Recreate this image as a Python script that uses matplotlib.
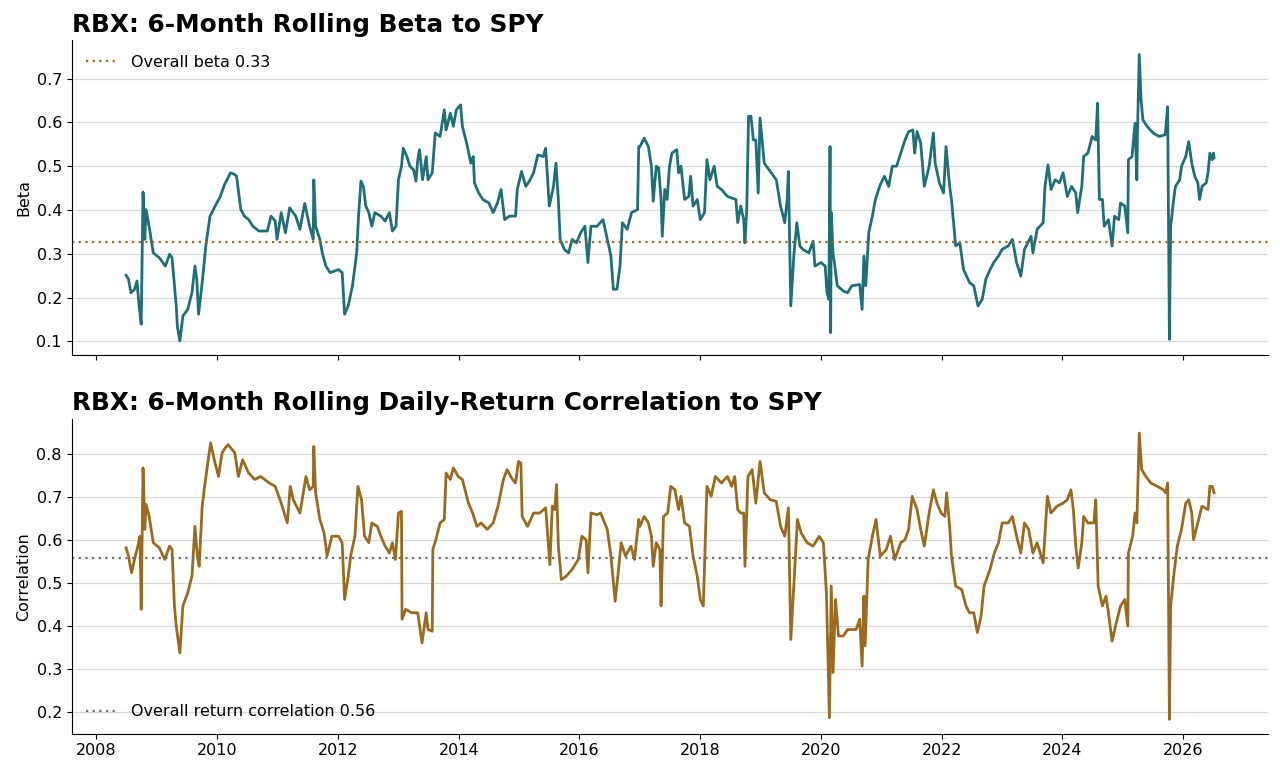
import matplotlib
matplotlib.use("Agg")
import matplotlib.pyplot as plt
import matplotlib.dates as mdates
import pandas as pd
import numpy as np

# ---- data (decimal years) ----
beta_years = [
2008.49,2008.53,2008.57,2008.63,2008.67,2008.70,2008.74,2008.77,2008.80,2008.82,2008.87,2008.94,
2009.04,2009.14,2009.21,2009.25,2009.29,2009.32,2009.34,2009.38,2009.43,2009.51,2009.58,2009.63,
2009.66,2009.69,2009.75,2009.81,2009.88,2009.95,2010.05,2010.12,2010.22,2010.29,2010.32,2010.39,
2010.45,2010.52,2010.59,2010.69,2010.83,2010.89,2010.96,2010.99,2011.06,2011.13,2011.20,2011.30,
2011.37,2011.45,2011.53,2011.59,2011.60,2011.63,2011.70,2011.74,2011.80,2011.87,2012.01,2012.07,
2012.11,2012.17,2012.24,2012.31,2012.34,2012.38,2012.42,2012.46,2012.51,2012.56,2012.61,2012.71,
2012.78,2012.85,2012.90,2012.96,2013.00,2013.05,2013.08,2013.14,2013.19,2013.25,2013.29,2013.32,
2013.35,2013.40,2013.46,2013.49,2013.56,2013.61,2013.69,2013.76,2013.79,2013.86,2013.91,2013.96,
2014.03,2014.06,2014.13,2014.20,2014.24,2014.26,2014.33,2014.40,2014.50,2014.57,2014.64,2014.70,
2014.76,2014.84,2014.94,2014.97,2015.04,2015.11,2015.17,2015.24,2015.31,2015.40,2015.44,2015.50,
2015.57,2015.61,2015.65,2015.68,2015.75,2015.82,2015.88,2015.95,2016.02,2016.09,2016.14,2016.19,
2016.29,2016.39,2016.46,2016.52,2016.56,2016.62,2016.67,2016.71,2016.79,2016.86,2016.96,2016.98,
2017.00,2017.07,2017.14,2017.19,2017.22,2017.27,2017.31,2017.35,2017.37,2017.41,2017.45,2017.49,
2017.53,2017.61,2017.64,2017.68,2017.74,2017.81,2017.84,2017.88,2017.95,2018.00,2018.07,2018.11,
2018.16,2018.23,2018.28,2018.35,2018.45,2018.59,2018.62,2018.67,2018.72,2018.74,2018.77,2018.80,
2018.84,2018.88,2018.92,2018.96,2018.99,2019.06,2019.16,2019.26,2019.33,2019.40,2019.44,2019.46,
2019.50,2019.55,2019.60,2019.65,2019.70,2019.80,2019.87,2019.90,2020.00,2020.07,2020.10,2020.13,
2020.15,2020.16,2020.17,2020.20,2020.23,2020.27,2020.37,2020.44,2020.51,2020.64,2020.68,2020.71,
2020.74,2020.79,2020.85,2020.90,2020.98,2021.05,2021.12,2021.18,2021.25,2021.32,2021.39,2021.45,
2021.52,2021.55,2021.59,2021.65,2021.71,2021.79,2021.86,2021.89,2021.96,2022.03,2022.07,2022.13,
2022.16,2022.23,2022.30,2022.36,2022.46,2022.53,2022.60,2022.67,2022.73,2022.80,2022.86,2022.94,
2023.00,2023.10,2023.17,2023.24,2023.31,2023.37,2023.48,2023.51,2023.58,2023.68,2023.71,2023.76,
2023.81,2023.88,2023.95,2024.01,2024.08,2024.15,2024.22,2024.25,2024.32,2024.35,2024.42,2024.49,
2024.55,2024.58,2024.61,2024.66,2024.69,2024.76,2024.82,2024.86,2024.93,2024.96,2025.03,2025.08,
2025.09,2025.15,2025.20,2025.23,2025.24,2025.27,2025.30,2025.33,2025.40,2025.50,2025.60,2025.70,
2025.74,2025.77,2025.79,2025.84,2025.87,2025.94,2025.97,2026.04,2026.09,2026.14,2026.19,2026.24,
2026.27,2026.31,2026.38,2026.41,2026.44,2026.48,2026.50,2026.51]
beta_values = [
0.251,0.242,0.211,0.219,0.238,0.189,0.139,0.441,0.333,0.401,0.363,0.302,
0.291,0.272,0.299,0.291,0.227,0.181,0.132,0.101,0.158,0.173,0.211,0.272,
0.242,0.162,0.234,0.318,0.386,0.405,0.431,0.458,0.485,0.481,0.477,0.401,
0.386,0.378,0.363,0.352,0.352,0.386,0.375,0.333,0.394,0.348,0.405,0.386,
0.356,0.415,0.363,0.333,0.469,0.363,0.333,0.302,0.272,0.257,0.264,0.257,
0.162,0.181,0.227,0.302,0.386,0.466,0.454,0.409,0.394,0.363,0.394,0.386,
0.375,0.394,0.352,0.363,0.469,0.500,0.541,0.522,0.500,0.492,0.466,0.515,
0.538,0.469,0.522,0.469,0.485,0.576,0.568,0.629,0.583,0.621,0.591,0.629,
0.640,0.591,0.553,0.507,0.522,0.462,0.439,0.424,0.416,0.394,0.416,0.447,
0.378,0.386,0.386,0.447,0.488,0.454,0.466,0.485,0.526,0.522,0.541,0.409,
0.454,0.507,0.424,0.333,0.310,0.302,0.333,0.325,0.348,0.363,0.280,0.363,
0.363,0.378,0.333,0.295,0.219,0.219,0.272,0.371,0.356,0.394,0.401,0.545,
0.545,0.564,0.545,0.500,0.420,0.500,0.496,0.424,0.340,0.447,0.424,0.500,
0.530,0.538,0.485,0.500,0.424,0.431,0.477,0.409,0.424,0.378,0.394,0.515,
0.469,0.500,0.454,0.447,0.431,0.424,0.371,0.409,0.378,0.325,0.401,0.614,
0.614,0.560,0.560,0.439,0.610,0.507,0.488,0.469,0.409,0.371,0.424,0.488,
0.181,0.295,0.371,0.318,0.310,0.302,0.329,0.272,0.280,0.272,0.211,0.196,
0.545,0.120,0.394,0.300,0.272,0.227,0.215,0.211,0.227,0.230,0.173,0.295,
0.227,0.348,0.386,0.424,0.458,0.477,0.454,0.500,0.500,0.530,0.560,0.579,
0.583,0.530,0.579,0.553,0.454,0.500,0.576,0.507,0.462,0.439,0.545,0.454,
0.424,0.318,0.325,0.264,0.234,0.227,0.181,0.196,0.242,0.264,0.280,0.295,
0.310,0.318,0.333,0.280,0.249,0.310,0.340,0.302,0.356,0.371,0.454,0.503,
0.447,0.469,0.462,0.485,0.431,0.454,0.439,0.394,0.454,0.522,0.530,0.568,
0.560,0.644,0.424,0.424,0.363,0.378,0.318,0.386,0.378,0.416,0.409,0.348,
0.515,0.522,0.598,0.469,0.576,0.755,0.651,0.606,0.591,0.576,0.568,0.572,
0.636,0.105,0.363,0.424,0.454,0.469,0.500,0.522,0.556,0.507,0.477,0.462,
0.424,0.454,0.462,0.485,0.530,0.515,0.530,0.519]

corr_years = [
2008.49,2008.53,2008.58,2008.63,2008.69,2008.72,2008.74,2008.77,2008.80,2008.82,2008.87,2008.94,
2009.04,2009.13,2009.21,2009.25,2009.29,2009.32,2009.38,2009.43,2009.51,2009.58,2009.63,2009.67,
2009.70,2009.75,2009.79,2009.85,2009.89,2009.95,2010.02,2010.08,2010.13,2010.18,2010.29,2010.35,
2010.42,2010.52,2010.62,2010.72,2010.86,2010.96,2011.06,2011.16,2011.21,2011.26,2011.37,2011.47,
2011.53,2011.59,2011.60,2011.63,2011.70,2011.77,2011.82,2011.90,2012.01,2012.07,2012.11,2012.17,
2012.21,2012.28,2012.33,2012.39,2012.44,2012.51,2012.56,2012.65,2012.71,2012.78,2012.85,2012.90,
2012.95,2013.00,2013.05,2013.06,2013.12,2013.22,2013.32,2013.39,2013.46,2013.49,2013.56,2013.57,
2013.62,2013.69,2013.76,2013.79,2013.86,2013.91,2013.99,2014.06,2014.16,2014.23,2014.30,2014.37,
2014.47,2014.57,2014.65,2014.74,2014.80,2014.89,2014.94,2014.99,2015.03,2015.05,2015.14,2015.24,
2015.34,2015.44,2015.48,2015.51,2015.55,2015.59,2015.62,2015.65,2015.70,2015.78,2015.88,2015.98,
2016.04,2016.11,2016.14,2016.19,2016.29,2016.35,2016.46,2016.52,2016.59,2016.64,2016.69,2016.76,
2016.85,2016.91,2016.98,2017.00,2017.07,2017.14,2017.19,2017.22,2017.27,2017.33,2017.35,2017.39,
2017.46,2017.51,2017.58,2017.64,2017.68,2017.74,2017.82,2017.88,2017.95,2018.00,2018.05,2018.08,
2018.11,2018.18,2018.25,2018.35,2018.45,2018.52,2018.57,2018.62,2018.67,2018.72,2018.74,2018.79,
2018.86,2018.92,2018.99,2019.06,2019.16,2019.26,2019.33,2019.40,2019.46,2019.50,2019.55,2019.61,
2019.67,2019.77,2019.87,2019.97,2020.04,2020.09,2020.14,2020.17,2020.20,2020.24,2020.29,2020.37,
2020.44,2020.58,2020.64,2020.68,2020.71,2020.73,2020.78,2020.85,2020.91,2020.98,2021.08,2021.15,
2021.22,2021.32,2021.39,2021.45,2021.51,2021.59,2021.65,2021.71,2021.79,2021.86,2021.92,2021.99,
2022.05,2022.08,2022.13,2022.16,2022.23,2022.33,2022.40,2022.46,2022.53,2022.59,2022.65,2022.70,
2022.80,2022.87,2022.94,2023.00,2023.10,2023.17,2023.24,2023.31,2023.37,2023.44,2023.51,2023.58,
2023.68,2023.75,2023.81,2023.91,2024.01,2024.08,2024.14,2024.18,2024.22,2024.26,2024.32,2024.35,
2024.42,2024.52,2024.55,2024.59,2024.66,2024.72,2024.76,2024.82,2024.89,2024.96,2025.03,2025.08,
2025.09,2025.16,2025.20,2025.23,2025.27,2025.31,2025.38,2025.46,2025.57,2025.67,2025.71,2025.74,
2025.77,2025.79,2025.84,2025.90,2025.97,2026.04,2026.09,2026.14,2026.17,2026.24,2026.31,2026.41,
2026.44,2026.48,2026.51]
corr_values = [
0.581,0.562,0.523,0.554,0.589,0.608,0.438,0.767,0.624,0.682,0.655,0.593,
0.581,0.554,0.585,0.577,0.446,0.399,0.337,0.446,0.476,0.515,0.631,0.562,
0.538,0.678,0.724,0.786,0.825,0.786,0.747,0.802,0.813,0.821,0.802,0.747,
0.786,0.755,0.740,0.747,0.732,0.724,0.685,0.639,0.724,0.693,0.662,0.747,
0.716,0.724,0.817,0.709,0.647,0.616,0.562,0.608,0.608,0.593,0.461,0.515,
0.562,0.608,0.724,0.693,0.608,0.593,0.639,0.631,0.608,0.585,0.569,0.593,
0.554,0.662,0.666,0.415,0.438,0.430,0.430,0.360,0.430,0.391,0.387,0.577,
0.600,0.639,0.647,0.755,0.740,0.767,0.747,0.740,0.685,0.662,0.631,0.639,
0.624,0.639,0.678,0.740,0.763,0.740,0.732,0.782,0.778,0.654,0.631,0.662,
0.662,0.674,0.600,0.542,0.678,0.670,0.728,0.585,0.507,0.515,0.531,0.554,
0.608,0.600,0.523,0.662,0.658,0.662,0.624,0.562,0.457,0.523,0.593,0.562,
0.585,0.554,0.647,0.631,0.654,0.639,0.608,0.538,0.593,0.577,0.446,0.654,
0.662,0.724,0.716,0.670,0.701,0.639,0.631,0.562,0.515,0.461,0.446,0.585,
0.724,0.701,0.747,0.732,0.747,0.724,0.747,0.670,0.662,0.662,0.538,0.747,
0.763,0.685,0.782,0.709,0.693,0.689,0.631,0.608,0.674,0.368,0.492,0.647,
0.616,0.593,0.585,0.608,0.593,0.476,0.186,0.492,0.291,0.461,0.376,0.376,
0.391,0.391,0.415,0.306,0.469,0.353,0.554,0.608,0.647,0.562,0.577,0.608,
0.554,0.593,0.600,0.624,0.701,0.670,0.624,0.585,0.662,0.716,0.685,0.662,
0.654,0.709,0.631,0.562,0.492,0.484,0.446,0.430,0.430,0.384,0.422,0.492,
0.531,0.569,0.593,0.639,0.639,0.654,0.608,0.569,0.639,0.624,0.569,0.593,
0.546,0.701,0.662,0.678,0.685,0.693,0.716,0.670,0.585,0.534,0.593,0.654,
0.639,0.639,0.693,0.492,0.446,0.469,0.430,0.364,0.407,0.446,0.461,0.399,
0.569,0.608,0.662,0.639,0.848,0.763,0.747,0.732,0.724,0.716,0.709,0.732,
0.182,0.446,0.515,0.585,0.624,0.685,0.693,0.662,0.600,0.639,0.678,0.670,
0.724,0.724,0.709]

overall_beta = 0.327
overall_corr = 0.557

beta_title = "RBX: 6-Month Rolling Beta to SPY"
corr_title = "RBX: 6-Month Rolling Daily-Return Correlation to SPY"

BETA_COLOR = "#1f6f78"
CORR_COLOR = "#9a6b1e"


def to_dates(years):
    out = []
    for y in years:
        yr = int(np.floor(y))
        start = pd.Timestamp(year=yr, month=1, day=1)
        end = pd.Timestamp(year=yr + 1, month=1, day=1)
        out.append(start + (end - start) * (y - yr))
    return out


plt.rcParams['font.family'] = ['DejaVu Sans']
FS = 11.5
fig = plt.figure(figsize=(12.8, 7.74), dpi=100)
ax1 = fig.add_axes([0.056, 0.541, 0.935, 0.407])
ax2 = fig.add_axes([0.056, 0.052, 0.935, 0.407], sharex=ax1)

ax1.plot(to_dates(beta_years), beta_values, color=BETA_COLOR, lw=2.0)
ax1.axhline(overall_beta, color="#9a6b1e", ls=(0, (1, 2)), lw=1.6,
            label=f"Overall beta {overall_beta:.2f}")
ax2.plot(to_dates(corr_years), corr_values, color=CORR_COLOR, lw=2.0)
ax2.axhline(overall_corr, color="#6e6e6e", ls=(0, (1, 2)), lw=1.6,
            label=f"Overall return correlation {overall_corr:.2f}")

for ax in (ax1, ax2):
    ax.spines['top'].set_visible(False)
    ax.spines['right'].set_visible(False)
    ax.grid(axis='y', color='#d9d9d9', lw=0.9)
    ax.set_axisbelow(True)
    ax.tick_params(labelsize=FS)

ax1.set_yticks([0.1, 0.2, 0.3, 0.4, 0.5, 0.6, 0.7])
ax2.set_yticks([0.2, 0.3, 0.4, 0.5, 0.6, 0.7, 0.8])
ax1.set_ylabel("Beta", fontsize=FS)
ax2.set_ylabel("Correlation", fontsize=FS)
ax1.set_title(beta_title, loc='left', fontsize=17.8, fontweight='bold', pad=6)
ax2.set_title(corr_title, loc='left', fontsize=17.8, fontweight='bold', pad=6)
ax1.legend(loc='upper left', frameon=False, fontsize=FS)
ax2.legend(loc='lower left', frameon=False, fontsize=FS)
ax2.xaxis.set_major_locator(mdates.YearLocator(2))
ax2.xaxis.set_major_formatter(mdates.DateFormatter('%Y'))
plt.setp(ax1.get_xticklabels(), visible=False)

fig.savefig("out.png", dpi=100)
